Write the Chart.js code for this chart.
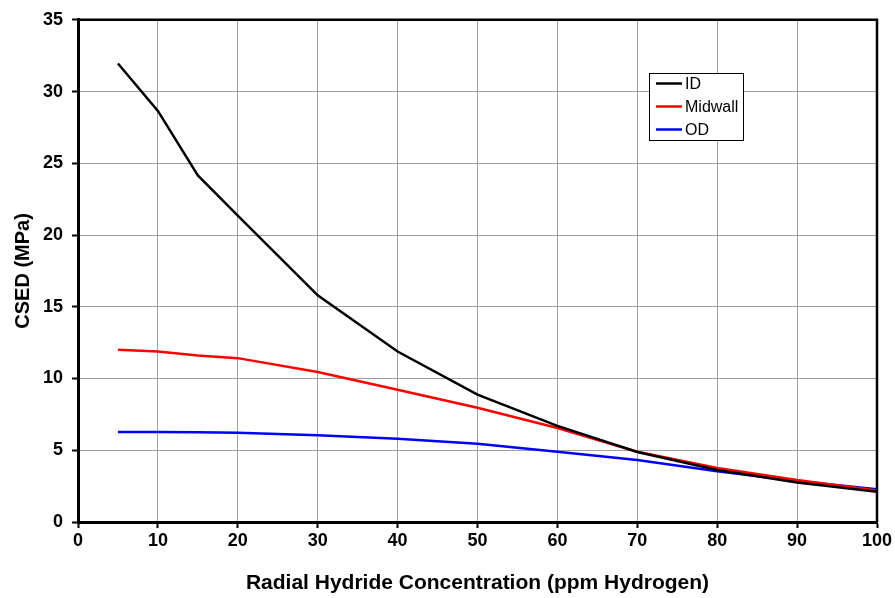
<!DOCTYPE html>
<html>
<head>
<meta charset="utf-8">
<style>
  html, body { margin: 0; padding: 0; background: #fff; }
  #wrap { width: 895px; height: 598px; }
</style>
<script src="https://cdn.jsdelivr.net/npm/chart.js@4.4.0/dist/chart.umd.min.js"></script>
</head>
<body>
<div id="wrap"><canvas id="csed"></canvas></div>
<script>
// ppm hydrogen
const conc = [5, 10, 15, 20, 30, 40, 50, 60, 70, 80, 90, 100];
// CSED (MPa)
const idVals = [31.95, 28.65, 24.15, 21.35, 15.8, 11.88, 8.88, 6.7, 4.88, 3.62, 2.76, 2.1];
const midVals = [12.0, 11.88, 11.6, 11.42, 10.45, 9.22, 7.96, 6.55, 4.9, 3.77, 2.92, 2.2];
const odVals = [6.28, 6.28, 6.25, 6.22, 6.05, 5.8, 5.45, 4.9, 4.32, 3.53, 2.85, 2.28];

const xTicks = [0, 10, 20, 30, 40, 50, 60, 70, 80, 90, 100];
const yTicks = [0, 5, 10, 15, 20, 25, 30, 35];

function pts(vals) {
    return conc.map((x, i) => ({ x: x, y: vals[i] }));
}

const FONT = "'Liberation Sans', Arial, sans-serif";

// frame on top/right + legend box inside plot
const framePlugin = {
    id: 'frame',
    afterDraw(chart) {
        const { ctx, chartArea: a } = chart;
        ctx.save();
        ctx.strokeStyle = '#000';
        ctx.lineWidth = 2.5;
        ctx.beginPath();
        ctx.moveTo(a.left, a.top);
        ctx.lineTo(a.right, a.top);
        ctx.lineTo(a.right, a.bottom);
        ctx.stroke();

        // legend
        const bx = 649, by = 73, bw = 94, bh = 67;
        ctx.fillStyle = '#fff';
        ctx.fillRect(bx, by, bw, bh);
        ctx.lineWidth = 1;
        ctx.strokeRect(bx + 0.5, by + 0.5, bw, bh);
        ctx.font = '16px ' + FONT;
        ctx.textBaseline = 'middle';
        chart.data.datasets.forEach((ds, i) => {
            const y = by + 10.5 + i * 23;
            ctx.strokeStyle = ds.borderColor;
            ctx.lineWidth = 2.5;
            ctx.beginPath();
            ctx.moveTo(bx + 7, y);
            ctx.lineTo(bx + 33, y);
            ctx.stroke();
            ctx.fillStyle = '#000';
            ctx.fillText(ds.label, bx + 36, y + 1);
        });
        ctx.restore();
    }
};

new Chart(document.getElementById("csed"), {
    type: 'line',
    data: {
        datasets: [{
            label: "ID",
            data: pts(idVals),
            borderColor: "#000000",
        }, {
            label: "Midwall",
            data: pts(midVals),
            borderColor: "#ff0000",
        }, {
            label: "OD",
            data: pts(odVals),
            borderColor: "#0000ff",
        }]
    },
    options: {
        responsive: true,
        maintainAspectRatio: false,
        animation: false,
        layout: { padding: { top: 16, right: 18, left: 0, bottom: 0 } },
        elements: {
            line: { borderWidth: 2.5, tension: 0, fill: false },
            point: { radius: 0, hoverRadius: 0 }
        },
        plugins: {
            legend: { display: false },
            tooltip: { enabled: false }
        },
        scales: {
            x: {
                type: 'linear',
                min: 0, max: 100,
                afterBuildTicks(s) { s.ticks = xTicks.map(v => ({ value: v })); },
                afterFit(s) { s.height = 76; },
                ticks: {
                    color: '#000',
                    padding: 2,
                    maxRotation: 0,
                    font: { family: FONT, size: 18, weight: 'bold' }
                },
                grid: { color: '#a0a0a0', lineWidth: 1, tickLength: 6, tickColor: '#000', tickWidth: 2 },
                border: { color: '#000', width: 3 },
                title: {
                    display: true,
                    text: 'Radial Hydride Concentration (ppm Hydrogen)',
                    color: '#000',
                    padding: { top: 0, bottom: 2 },
                    font: { family: FONT, size: 21, weight: 'bold' }
                }
            },
            y: {
                type: 'linear',
                min: 0, max: 35,
                afterBuildTicks(s) { s.ticks = yTicks.map(v => ({ value: v })); },
                afterFit(s) { s.width = 78; },
                ticks: {
                    color: '#000',
                    padding: 9,
                    font: { family: FONT, size: 18, weight: 'bold' }
                },
                grid: { color: '#a0a0a0', lineWidth: 1, tickLength: 6, tickColor: '#000', tickWidth: 2 },
                border: { color: '#000', width: 3 },
                title: {
                    display: true,
                    text: 'CSED (MPa)',
                    color: '#000',
                    padding: { top: 11, bottom: 0 },
                    font: { family: FONT, size: 20, weight: 'bold' }
                }
            }
        }
    },
    plugins: [framePlugin]
});
</script>
</body>
</html>
